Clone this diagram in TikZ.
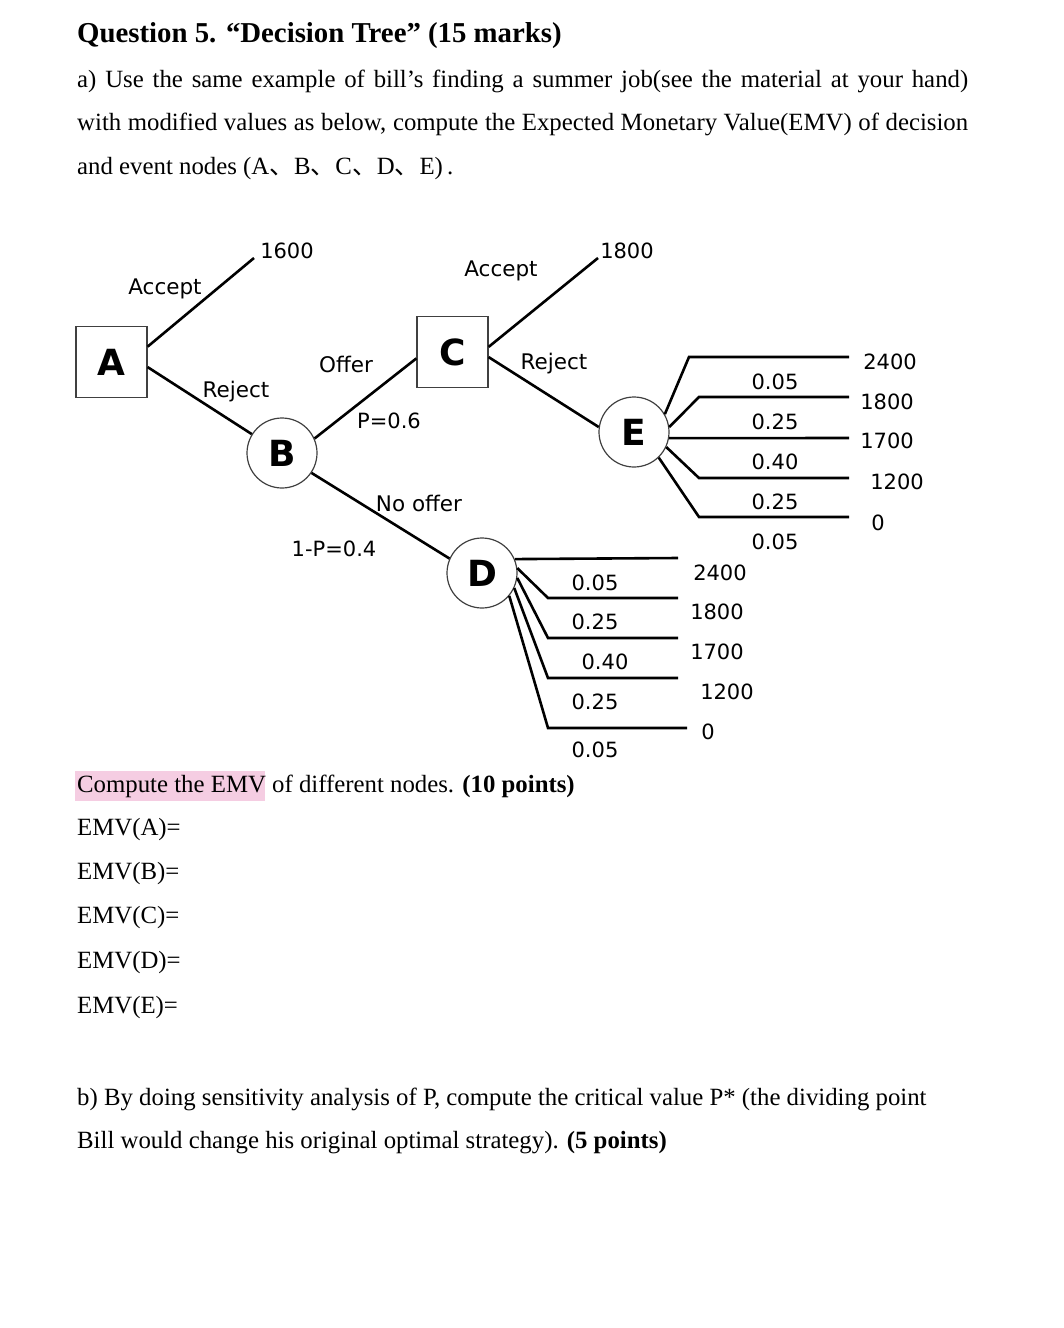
\documentclass[tikz,border=0pt]{standalone}
\usepackage{fontspec}
\setmainfont{Liberation Serif}
\newfontfamily\treefont{DejaVu Sans}
\newfontfamily\cjkfont{Noto Sans CJK SC}
\definecolor{markpink}{RGB}{245,205,226}
\tikzset{
  decision/.style={draw=black!75, line width=1.2pt, minimum size=71pt, inner sep=0pt, font=\treefont\bfseries\fontsize{36}{36}\selectfont},
  chance/.style={decision, circle, minimum size=70pt},
  branch/.style={line width=2.6pt},
  lbl/.style={inner sep=0pt, font=\treefont\fontsize{21.5}{25}\selectfont},
  num/.style={inner sep=0pt, font=\treefont\fontsize{21}{25}\selectfont},
  para/.style={anchor=base west, inner sep=0pt, font=\fontsize{24.8}{29}\selectfont}
}
\begin{document}
\begin{tikzpicture}[x=1pt,y=-1pt]
\useasboundingbox (0,0) rectangle (1064,1328);
% question text
\node[para, font=\bfseries\fontsize{28.8}{33}\selectfont] (title) at (77,42) {Question 5. “Decision Tree” (15 marks)};
\node[para] (qa1) at (77,87) {\makebox[891pt][s]{a) Use the same example of bill’s finding a summer job(see the material at your hand)}};
\node[para] (qa2) at (77,130) {\makebox[891pt][s]{with modified values as below, compute the Expected Monetary Value(EMV) of decision}};
\node[para] (qa3) at (77,174) {and event nodes (A{\cjkfont 、}B{\cjkfont 、}C{\cjkfont 、}D{\cjkfont 、}E)\,.};
% tree
\node[decision] (A) at (111.5,362) {A};
\node[chance] (B) at (282,453) {B};
\node[decision] (C) at (452.5,352) {C};
\node[chance] (D) at (482,573) {D};
\node[chance] (E) at (634,432) {E};
\coordinate (accA) at (254,258);
\coordinate (accC) at (598,258);
\draw[branch] (A.23) -- (accA);
\draw[branch] (A.-8) -- (B.148);
\draw[branch] (B.24) -- (C.190);
\draw[branch] (B.-34) -- (D.156);
\draw[branch] (C.8) -- (accC);
\draw[branch] (C.-8) -- (E.172);
\node[lbl] (accAlbl) at (165,289) {Accept};
\node[num] (payA) at (287,251) {1600};
\node[lbl] (rejAlbl) at (236,392) {Reject};
\node[lbl] (offer) at (346,364) {Offer};
\node[num] (pOffer) at (389,421) {P=0.6};
\node[lbl] (noOffer) at (419,503) {No offer};
\node[num] (pNoOffer) at (334,549) {1-P=0.4};
\node[lbl] (accClbl) at (501,271) {Accept};
\node[num] (payC) at (627,251) {1800};
\node[lbl] (rejClbl) at (554,364) {Reject};
% outcomes of E
\foreach \i/\ang/\kx/\ky in {1/30/689/357, 2/8/699/397, 4/-25/699/478, 5/-46/699/517} {
  \coordinate (Ek\i) at (\kx,\ky);
  \coordinate (Ee\i) at (849,\ky);
  \draw[branch] (E.\ang) -- (Ek\i) -- (Ee\i);
}
\coordinate (Ee3) at (849,438);
\draw[branch] (E.-10) -- (Ee3);
\foreach \i/\p/\y in {1/0.05/382, 2/0.25/422, 3/0.40/462, 4/0.25/502, 5/0.05/542}
  \node[num] (Ep\i) at (775,\y) {\p};
\foreach \i/\v/\x/\y in {1/2400/890/362, 2/1800/887/402, 3/1700/887/441, 4/1200/897/482, 5/0/878/523}
  \node[num] (Ev\i) at (\x,\y) {\v};
% outcomes of D
\coordinate (De1) at (678,558);
\draw[branch] (D.23) -- (De1);
\foreach \i/\ang/\ky/\ex in {2/8/598/678, 3/-8/638/678, 4/-25/678/678, 5/-40/728/687} {
  \coordinate (Dk\i) at (548,\ky);
  \coordinate (De\i) at (\ex,\ky);
  \draw[branch] (D.\ang) -- (Dk\i) -- (De\i);
}
\foreach \i/\p/\x/\y in {1/0.05/595/583, 2/0.25/595/622, 3/0.40/605/662, 4/0.25/595/702, 5/0.05/595/750}
  \node[num] (Dp\i) at (\x,\y) {\p};
\foreach \i/\v/\x/\y in {1/2400/720/573, 2/1800/717/612, 3/1700/717/652, 4/1200/727/692, 5/0/708/732}
  \node[num] (Dv\i) at (\x,\y) {\v};
% answers
\fill[markpink] (75,771) rectangle (265,801);
\node[para] (task) at (77,792) {Compute the EMV of different nodes. \textbf{(10 points)}};
\foreach \n/\y in {A/835, B/879, C/923, D/968, E/1013}
  \node[para] (emv\n) at (77,\y) {EMV(\n)=};
\node[para] (qb1) at (77,1105) {b) By doing sensitivity analysis of P, compute the critical value P* (the dividing point};
\node[para] (qb2) at (77,1148) {Bill would change his original optimal strategy). \textbf{(5 points)}};
\end{tikzpicture}
\end{document}
